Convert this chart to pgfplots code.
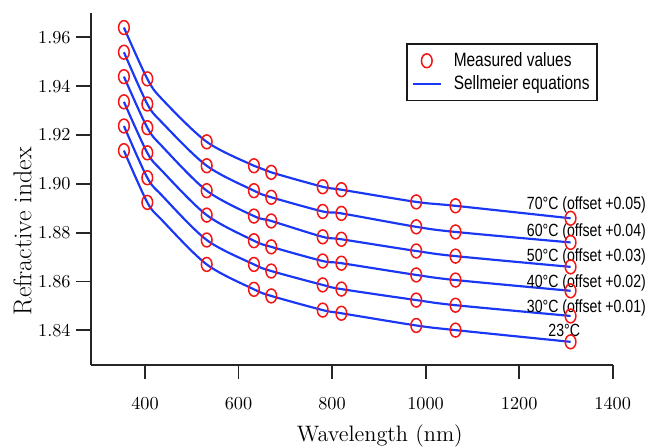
\documentclass[border=0pt]{standalone}
\usepackage{fontspec}
\usepackage{pgfplots}
\usepackage{pgfplotstable}
\pgfplotsset{compat=1.18}
\newfontfamily\labelfont{Liberation Sans}[FakeStretch=0.8]
\newfontfamily\legendfont{Liberation Sans}[FakeStretch=0.8]
\definecolor{curveblue}{RGB}{25,55,245}
\definecolor{markred}{RGB}{245,20,20}

\pgfplotstableread{
lam  t23    t30    t40    t50    t60    t70
355  1.9136 1.9237 1.9336 1.9439 1.9539 1.9640
405  1.8924 1.9025 1.9127 1.9230 1.9327 1.9430
532  1.8670 1.8770 1.8872 1.8972 1.9074 1.9172
633  1.8568 1.8670 1.8767 1.8868 1.8972 1.9074
670  1.8541 1.8643 1.8742 1.8848 1.8945 1.9047
780  1.8483 1.8586 1.8684 1.8783 1.8887 1.8988
820  1.8470 1.8569 1.8675 1.8773 1.8879 1.8976
980  1.8420 1.8524 1.8627 1.8725 1.8824 1.8926
1064 1.8401 1.8503 1.8606 1.8704 1.8803 1.8910
1310 1.8353 1.8459 1.8562 1.8660 1.8760 1.8859
}\measured

\pgfplotstableread{
lam  t23    t30    t40    t50    t60    t70
355  1.9136 1.9237 1.9336 1.9439 1.9539 1.9640
405  1.8924 1.9025 1.9127 1.9230 1.9327 1.9430
436  1.8852 1.8953 1.9054 1.9155 1.9252 1.9348
532  1.8670 1.8770 1.8872 1.8972 1.9074 1.9172
633  1.8568 1.8670 1.8767 1.8868 1.8972 1.9074
670  1.8541 1.8643 1.8742 1.8848 1.8945 1.9047
780  1.8483 1.8586 1.8684 1.8783 1.8887 1.8988
820  1.8470 1.8569 1.8675 1.8773 1.8879 1.8976
980  1.8420 1.8524 1.8627 1.8725 1.8824 1.8926
1064 1.8401 1.8503 1.8606 1.8704 1.8803 1.8910
1310 1.8353 1.8459 1.8562 1.8660 1.8760 1.8859
}\sellmeier

\begin{document}
\begin{tikzpicture}
\useasboundingbox (-54.4pt,-49.6pt) rectangle (339.2pt,219.16pt);
\begin{axis}[
  at={(0pt,0pt)}, anchor=south west,
  scale only axis, width=313.2pt, height=211.56pt,
  xmin=283.9, xmax=1400, ymin=1.8257, ymax=1.9701,
  axis lines=left,
  axis line style={-, line width=1.2pt, black!85},
  tick align=outside, major tick length=8.5pt,
  tick style={line width=1.1pt, black!85},
  xtick={400,600,800,1000,1200,1400},
  ytick={1.84,1.86,1.88,1.90,1.92,1.94,1.96},
  xticklabel style={font=\fontsize{10.9}{12}\selectfont, yshift=-7.5pt,
    /pgf/number format/1000 sep={}},
  yticklabel style={font=\fontsize{11.1}{12}\selectfont,
    /pgf/number format/.cd, fixed, fixed zerofill, precision=2},
  xlabel={Wavelength (nm)},
  xlabel style={at={(axis description cs:0.554,-0.2167)}, anchor=base,
    font=\fontsize{13.4}{15}\selectfont},
  ylabel={Refractive index},
  ylabel style={at={(axis description cs:-0.1136,0.38)}, anchor=base,
    font=\fontsize{15.5}{17}\selectfont},
  clip=false,
  legend style={at={(0.605,0.913)}, anchor=north west, draw=black!90,
    line width=1pt, fill=white,
    font=\legendfont\fontsize{11.6}{13.6}\selectfont,
    inner xsep=2.5pt, inner ysep=3pt, row sep=0pt, column sep=5pt,
    nodes={inner sep=2pt}},
  legend cell align=left,
]
\pgfplotsinvokeforeach{t23,t30,t40,t50,t60,t70}{
  \addplot[curveblue, line width=1.3pt, smooth, tension=0.5, forget plot]
    table[x=lam, y=#1]{\sellmeier};
  \addplot[only marks, mark=o, mark size=3.2pt, markred,
    mark options={line width=0.9pt, yscale=1.3}, forget plot]
    table[x=lam, y=#1]{\measured};
}
\addlegendimage{only marks, mark=o, mark size=3.2pt, markred, mark options={line width=0.9pt, yscale=1.3}}
\addlegendentry{Measured values}
\addlegendimage{curveblue, line width=1.3pt}
\addlegendentry{Sellmeier equations}

\begin{scope}[every node/.style={anchor=base west, inner sep=0pt,
    font=\labelfont\fontsize{10.6}{12}\selectfont}]
\node at (axis cs:1216,1.8896) {70°C (offset +0.05)};
\node at (axis cs:1216,1.8785) {60°C (offset +0.04)};
\node at (axis cs:1216,1.8683) {50°C (offset +0.03)};
\node at (axis cs:1216,1.8576) {40°C (offset +0.02)};
\node at (axis cs:1216,1.8475) {30°C (offset +0.01)};
\node at (axis cs:1262,1.8376) {23°C};
\end{scope}
\end{axis}
\end{tikzpicture}
\end{document}
